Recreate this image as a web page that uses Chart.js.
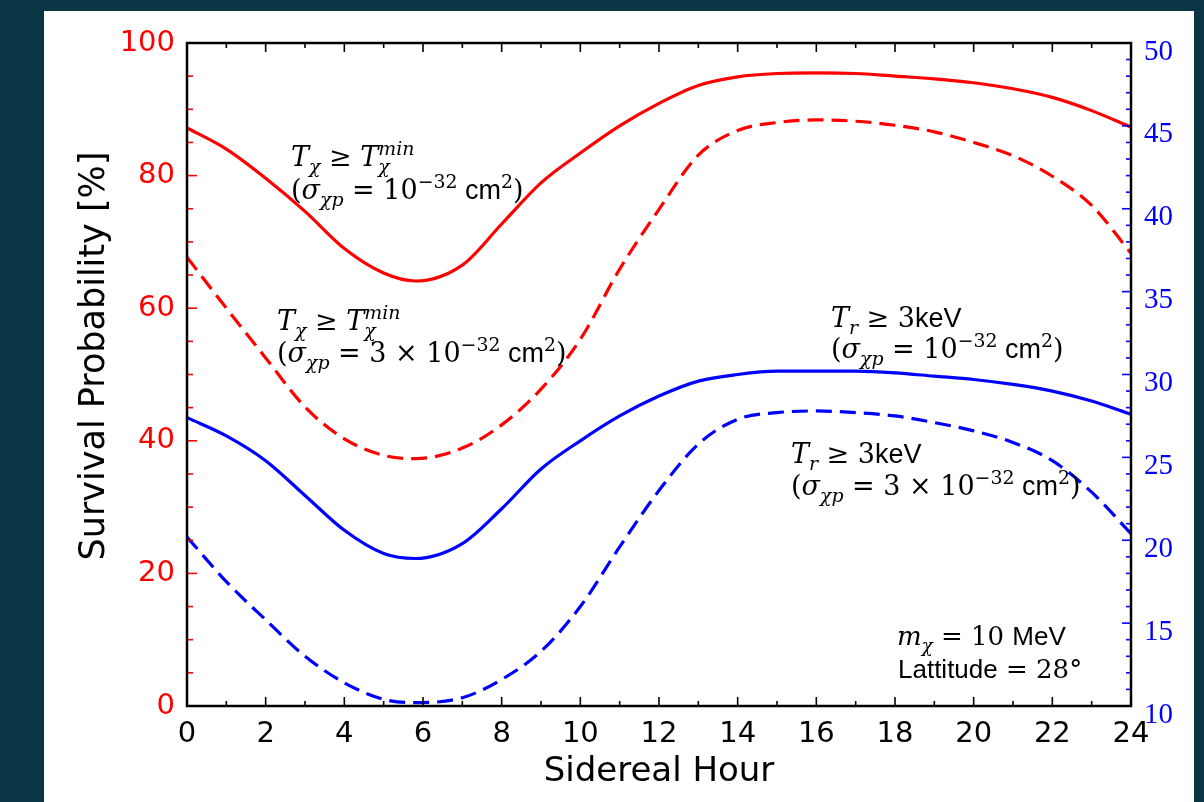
<!DOCTYPE html>
<html>
<head>
<meta charset="utf-8">
<script src="https://cdn.jsdelivr.net/npm/chart.js@4.4.0/dist/chart.umd.min.js"></script>
<style>
  html, body { margin: 0; padding: 0; background: #0a3545; overflow: hidden; }
</style>
</head>
<body>
<canvas id="chart" width="1204" height="802"></canvas>
<script>
// sidereal hour sample points
const hours = [0, 1, 2, 3, 4, 5, 5.8, 7, 8, 9, 10, 11, 12, 13, 14, 15, 16, 17, 18, 19, 20, 21, 22, 23, 24];

// red curves, left axis [%]
const redSolid  = [87.2, 84.0, 79.6, 74.6, 69.0, 65.3, 64.1, 66.5, 72.7, 78.9, 83.4, 87.5, 90.9, 93.6, 94.9, 95.4, 95.5, 95.4, 95.0, 94.6, 94.0, 93.1, 91.8, 89.8, 87.3];
const redDashed = [67.7, 60.0, 52.5, 45.1, 40.3, 37.8, 37.3, 38.9, 42.4, 47.8, 55.3, 65.9, 74.9, 83.1, 86.8, 88.0, 88.4, 88.2, 87.6, 86.6, 85.0, 83.0, 79.9, 75.5, 68.3];

// blue curves, right axis
const blueSolid  = [27.4, 26.3, 24.8, 22.7, 20.6, 19.2, 18.9, 19.8, 21.9, 24.3, 26.0, 27.5, 28.7, 29.6, 30.0, 30.2, 30.2, 30.2, 30.1, 29.9, 29.7, 29.4, 29.0, 28.4, 27.6];
const blueDashed = [20.2, 17.5, 15.2, 13.0, 11.4, 10.4, 10.2, 10.5, 11.6, 13.3, 16.0, 19.6, 23.0, 25.8, 27.3, 27.7, 27.8, 27.7, 27.5, 27.1, 26.6, 25.9, 24.8, 22.9, 20.4];

// tick labels
const xTicks = [0, 2, 4, 6, 8, 10, 12, 14, 16, 18, 20, 22, 24];
const leftTicks = [0, 20, 40, 60, 80, 100];
const rightTicks = [10, 15, 20, 25, 30, 35, 40, 45, 50];

const RED = "#ff0000";
const BLUE = "#0000ff";

const pts = arr => arr.map((v, i) => ({ x: hours[i], y: v }));

// ===== BACKGROUND PANEL =====
const panelBg = {
  id: "panelBg",
  beforeDraw(chart) {
    const ctx = chart.ctx;
    ctx.save();
    ctx.fillStyle = "#0a3545";
    ctx.fillRect(0, 0, chart.width, chart.height);
    ctx.fillStyle = "#ffffff";
    ctx.fillRect(44, 11, 1150, 791);
    ctx.restore();
  }
};

// ===== INWARD TICKS + FRAME =====
const frameTicks = {
  id: "frameTicks",
  afterDatasetsDraw(chart) {
    const { ctx, chartArea: a, scales } = chart;
    const line = (x1, y1, x2, y2) => { ctx.beginPath(); ctx.moveTo(x1, y1); ctx.lineTo(x2, y2); ctx.stroke(); };
    ctx.save();
    ctx.lineWidth = 1.6;

    ctx.strokeStyle = "#000";
    for (let h = 0; h <= 24; h++) {
      const px = scales.x.getPixelForValue(h);
      const len = h % 2 === 0 ? 9 : 5;
      line(px, a.bottom, px, a.bottom - len);
      line(px, a.top, px, a.top + len);
    }

    ctx.strokeStyle = RED;
    for (let v = 0; v <= 100; v += 5) {
      const py = scales.y.getPixelForValue(v);
      line(a.left, py, a.left + (v % 20 === 0 ? 10 : 6), py);
    }

    ctx.strokeStyle = BLUE;
    for (let v = 10; v <= 50; v++) {
      const py = scales.y2.getPixelForValue(v);
      line(a.right, py, a.right - (v % 5 === 0 ? 9 : 5), py);
    }

    ctx.strokeStyle = "#000";
    ctx.lineWidth = 2.5;
    ctx.strokeRect(a.left, a.top, a.right - a.left, a.bottom - a.top);
    ctx.restore();
  }
};

// ===== MATH-ISH TEXT =====
const SERIF = '"DejaVu Serif", "Liberation Serif", serif';
const SANS = '"Liberation Sans", "DejaVu Sans", sans-serif';

function fontFor(p, size) {
  if (p.f === "i") return `italic ${size}px ${SERIF}`;
  if (p.f === "s") return `${size}px ${SANS}`;
  return `${size}px ${SERIF}`;
}

function drawRich(ctx, x, y, parts, size) {
  ctx.textBaseline = "alphabetic";
  ctx.textAlign = "left";
  ctx.fillStyle = "#000";
  let cx = x;
  parts.forEach(p => {
    if (p.stack) {
      const s = size * 0.7;
      ctx.font = fontFor({ f: "i" }, s);
      ctx.fillText(p.sup, cx, y - size * 0.42);
      const w1 = ctx.measureText(p.sup).width;
      ctx.fillText(p.sub, cx, y + size * 0.25);
      const w2 = ctx.measureText(p.sub).width;
      cx += Math.max(w1, w2);
      return;
    }
    let s = size, dy = 0;
    if (p.pos === "sub") { s = size * 0.7; dy = size * 0.25; }
    if (p.pos === "sup") { s = size * 0.7; dy = -size * 0.42; }
    ctx.font = fontFor(p, s);
    ctx.fillText(p.t, cx, y + dy);
    cx += ctx.measureText(p.t).width;
  });
}

const tChiLine = [
  { t: "T", f: "i" }, { t: "χ", f: "i", pos: "sub" }, { t: " ≥ ", f: "r" },
  { t: "T", f: "i" }, { stack: true, sup: "min", sub: "χ" }
];
const trLine = [
  { t: "T", f: "i" }, { t: "r", f: "i", pos: "sub" }, { t: " ≥ 3", f: "r" }, { t: "keV", f: "s" }
];
const sigma1 = [
  { t: "(", f: "r" }, { t: "σ", f: "i" }, { t: "χp", f: "i", pos: "sub" },
  { t: " = 10", f: "r" }, { t: "−32", f: "r", pos: "sup" }, { t: " cm", f: "s" },
  { t: "2", f: "r", pos: "sup" }, { t: ")", f: "r" }
];
const sigma3 = [
  { t: "(", f: "r" }, { t: "σ", f: "i" }, { t: "χp", f: "i", pos: "sub" },
  { t: " = 3 × 10", f: "r" }, { t: "−32", f: "r", pos: "sup" }, { t: " cm", f: "s" },
  { t: "2", f: "r", pos: "sup" }, { t: ")", f: "r" }
];
const massLine = [
  { t: "m", f: "i" }, { t: "χ", f: "i", pos: "sub" }, { t: " = 10 ", f: "r" }, { t: "MeV", f: "s" }
];
const latLine = [
  { t: "Lattitude", f: "s" }, { t: " = 28°", f: "r" }
];

const notes = {
  id: "notes",
  afterDraw(chart) {
    const ctx = chart.ctx;
    ctx.save();
    drawRich(ctx, 291, 166, tChiLine, 27);
    drawRich(ctx, 291, 199, sigma1, 27);
    drawRich(ctx, 277, 330, tChiLine, 27);
    drawRich(ctx, 277, 362, sigma3, 27);
    drawRich(ctx, 831, 327, trLine, 27);
    drawRich(ctx, 831, 358, sigma1, 27);
    drawRich(ctx, 791, 463, trLine, 27);
    drawRich(ctx, 791, 495, sigma3, 27);
    drawRich(ctx, 897, 645, massLine, 26);
    drawRich(ctx, 898, 678, latLine, 26);

    // y axis title, placed as in the reference (not centred on the axis)
    ctx.translate(95, 356);
    ctx.rotate(-Math.PI / 2);
    ctx.font = '35px "DejaVu Sans"';
    ctx.textAlign = "center";
    ctx.textBaseline = "middle";
    ctx.fillStyle = "#000";
    ctx.fillText("Survival Probability [%]", 0, 0);
    ctx.restore();
  }
};

const lineStyle = (color, dashed) => ({
  borderColor: color,
  borderWidth: 3.2,
  borderDash: dashed ? [16, 8] : [],
  pointRadius: 0,
  cubicInterpolationMode: "monotone",
  fill: false
});

new Chart(document.getElementById("chart").getContext("2d"), {
  type: "line",
  data: {
    datasets: [
      { label: "red solid", data: pts(redSolid), yAxisID: "y", ...lineStyle(RED, false) },
      { label: "red dashed", data: pts(redDashed), yAxisID: "y", ...lineStyle(RED, true) },
      { label: "blue solid", data: pts(blueSolid), yAxisID: "y2", ...lineStyle(BLUE, false) },
      { label: "blue dashed", data: pts(blueDashed), yAxisID: "y2", ...lineStyle(BLUE, true) }
    ]
  },
  options: {
    responsive: false,
    animation: false,
    devicePixelRatio: 1,
    layout: { padding: { left: 44, top: 43, right: 0, bottom: 0 } },
    plugins: { legend: { display: false }, tooltip: { enabled: false } },
    scales: {
      x: {
        type: "linear",
        min: 0, max: 24,
        grid: { display: false },
        border: { display: false },
        afterBuildTicks: s => { s.ticks = xTicks.map(v => ({ value: v })); },
        afterFit: s => { s.height = 96; },
        ticks: { color: "#000", padding: 3, maxRotation: 0, font: { family: "DejaVu Sans", size: 29 } },
        title: { display: true, text: "Sidereal Hour", color: "#000", padding: { bottom: 9 }, font: { family: "DejaVu Sans", size: 34 } }
      },
      y: {
        position: "left",
        min: 0, max: 100,
        grid: { display: false },
        border: { display: false },
        afterBuildTicks: s => { s.ticks = leftTicks.map(v => ({ value: v })); },
        afterFit: s => { s.width = 143; },
        ticks: { color: RED, padding: 4, font: { family: "DejaVu Sans", size: 29 } }
      },
      y2: {
        position: "right",
        min: 10, max: 50,
        grid: { display: false },
        border: { display: false },
        afterBuildTicks: s => { s.ticks = rightTicks.map(v => ({ value: v })); },
        afterFit: s => { s.width = 73; },
        ticks: { color: BLUE, padding: 5, labelOffset: 9, font: { family: "Liberation Serif", size: 29 } }
      }
    }
  },
  plugins: [panelBg, frameTicks, notes]
});
</script>
</body>
</html>
